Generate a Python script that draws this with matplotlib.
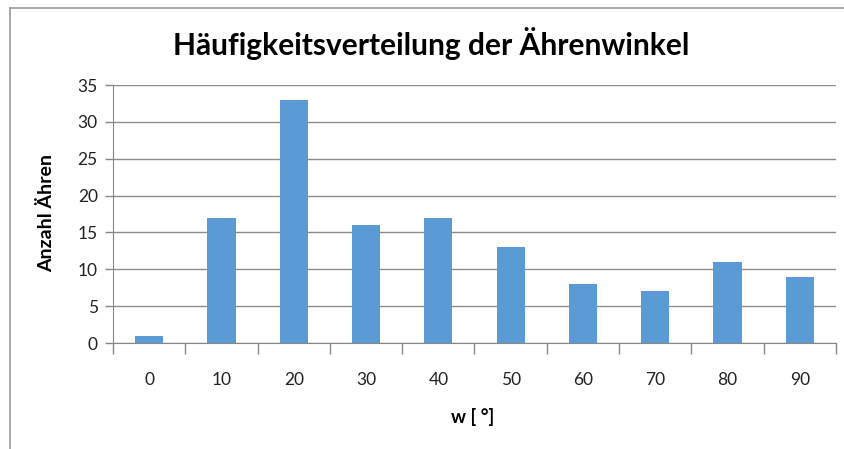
import matplotlib.pyplot as plt
from matplotlib.lines import Line2D
import numpy as np

# Daten
winkel = ["0", "10", "20", "30", "40", "50", "60", "70", "80", "90"]
anzahl = [1, 17, 33, 16, 17, 13, 8, 7, 11, 9]
y_ticks = [0, 5, 10, 15, 20, 25, 30, 35]

W, H = 845, 449
plt.rcParams["font.family"] = ["Lato", "DejaVu Sans"]
fig = plt.figure(figsize=(W / 100, H / 100), dpi=100)

# Plotbereich (Pixel -> Figurkoordinaten)
x0, x1 = 113, 836
y_top, y_bot = 85, 343
ax = fig.add_axes([x0 / W, 1 - y_bot / H, (x1 - x0) / W, (y_bot - y_top) / H])

x = np.arange(len(winkel))
ax.bar(x, anzahl, width=0.39, color="#5B9BD5", zorder=3)

ax.set_xlim(-0.5, len(winkel) - 0.5)
ax.set_ylim(0, 35)
ax.set_yticks(y_ticks)
ax.set_xticks(x)
ax.set_xticklabels(winkel)
ax.set_xticks(np.arange(-0.5, len(winkel)), minor=True)
ax.tick_params(axis="x", which="major", length=0, pad=21, labelsize=12.5, colors="#222222")
ax.tick_params(axis="x", which="minor", length=8, width=1, color="#888888")
ax.tick_params(axis="y", length=6, width=1, color="#888888", pad=5,
               labelsize=12.5, labelcolor="#222222")

ax.grid(axis="y", color="#8c8c8c", linewidth=1, zorder=0)
for s in ["top", "right"]:
    ax.spines[s].set_visible(False)
ax.spines["left"].set_color("#888888")
ax.spines["bottom"].set_color("#888888")

# Beschriftungen
fig.text(431 / W, 1 - 43 / H, "Häufigkeitsverteilung der Ährenwinkel",
         ha="center", va="center", fontsize=21.5, fontweight="bold")
fig.text(47 / W, 1 - 213 / H, "Anzahl Ähren", ha="center", va="center",
         rotation=90, fontsize=14, fontweight="bold")
fig.text(473 / W, 1 - 417 / H, "w [ °]", ha="center", va="center",
         fontsize=13.5, fontweight="bold")

# Diagrammrahmen (oben und links sichtbar)
fig.add_artist(Line2D([10 / W, 1], [1 - 8 / H, 1 - 8 / H], color="#999999", linewidth=1.2))
fig.add_artist(Line2D([10 / W, 10 / W], [0, 1 - 8 / H], color="#999999", linewidth=1.2))

fig.savefig("out.png", dpi=100)
